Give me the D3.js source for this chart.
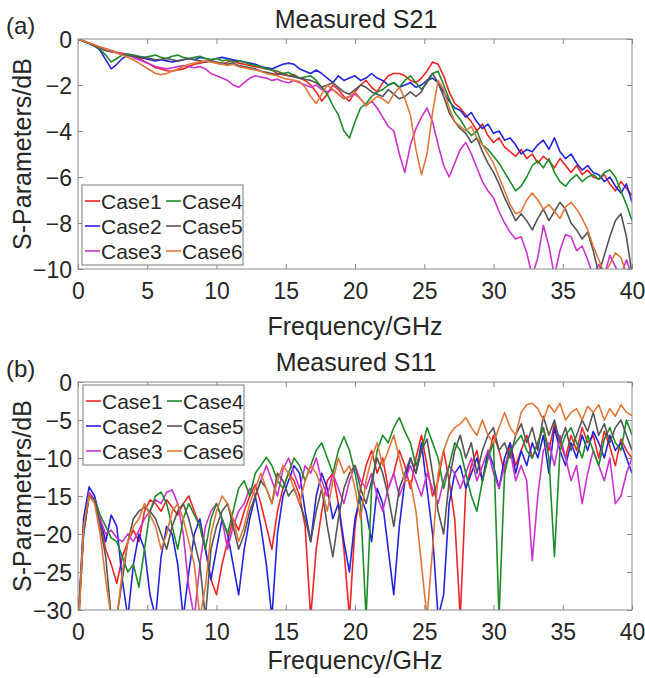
<!DOCTYPE html>
<html><head><meta charset="utf-8">
<script src="https://cdn.jsdelivr.net/npm/d3@7"></script>
<style>
body{margin:0;background:#fff;}
svg text{font-family:"Liberation Sans",Arial,sans-serif;fill:#262626;}
</style>
</head><body>
<svg id="chart" width="645" height="678"></svg>
<script>
// ---------- data ----------
const caseNames = ["Case1","Case2","Case3","Case4","Case5","Case6"];
const caseColors = ["#f02525","#2424dc","#cc33cc","#1f8c2a","#555555","#e0773a"];
const freqStep = 0.4; // GHz between samples, first sample at 0 GHz
const xTicks = [0,5,10,15,20,25,30,35,40];
const s21Ticks = [0,-2,-4,-6,-8,-10];
const s11Ticks = [0,-5,-10,-15,-20,-25,-30];

// Measured S21 (dB), 0..40 GHz
const s21Case1 = [0,-0.08,-0.18,-0.28,-0.35,-0.42,-0.5,-0.58,-0.62,-0.68,
 -0.75,-0.85,-0.98,-1.1,-1.25,-1.3,-1.38,-1.4,-1.35,-1.3,
 -1.2,-1.1,-1.05,-1.0,-0.95,-1.05,-1.1,-1.0,-0.95,-1.05,
 -1.1,-1.15,-1.2,-1.25,-1.3,-1.35,-1.5,-1.55,-1.6,-1.55,
 -1.7,-1.8,-2.0,-2.3,-2.7,-2.4,-2.0,-2.2,-2.5,-2.7,
 -2.3,-2.0,-1.8,-2.1,-2.3,-1.9,-1.6,-1.5,-1.5,-1.6,
 -1.8,-1.9,-1.7,-1.4,-1.0,-1.1,-1.6,-2.3,-2.8,-3.0,
 -3.3,-3.6,-4.0,-3.7,-4.2,-4.5,-4.3,-4.7,-4.9,-5.1,
 -4.8,-5.2,-5.0,-5.4,-5.1,-5.3,-5.6,-5.2,-5.5,-5.8,
 -5.5,-5.9,-5.7,-6.0,-6.1,-5.9,-6.3,-6.6,-6.2,-6.5,
 -6.8];
const s21Case2 = [0,-0.1,-0.2,-0.3,-0.5,-0.9,-1.3,-1.1,-0.85,-0.7,
 -0.75,-0.8,-0.85,-0.9,-0.95,-0.9,-0.95,-1.0,-0.95,-0.9,
 -0.85,-0.9,-0.8,-0.85,-0.9,-0.85,-0.8,-0.85,-0.9,-0.95,
 -1.0,-1.05,-1.1,-1.2,-1.25,-1.3,-1.2,-1.1,-1.05,-1.1,
 -1.3,-1.4,-1.5,-1.35,-1.5,-1.7,-1.9,-1.6,-1.8,-1.7,
 -1.6,-1.8,-1.7,-1.5,-1.7,-1.8,-2.0,-1.9,-2.1,-2.0,
 -1.9,-2.1,-2.0,-1.8,-1.7,-1.9,-2.3,-2.7,-3.0,-3.1,
 -3.4,-3.2,-3.6,-3.9,-3.7,-4.1,-4.0,-4.4,-4.3,-4.6,
 -5.0,-4.8,-4.9,-4.6,-4.4,-4.8,-4.3,-4.9,-5.2,-5.0,
 -5.4,-5.7,-5.5,-5.8,-5.9,-6.2,-6.0,-6.4,-6.7,-6.3,
 -7.1];
const s21Case3 = [0,-0.1,-0.2,-0.3,-0.4,-0.5,-0.55,-0.6,-0.65,-0.7,
 -0.8,-0.9,-1.0,-1.1,-1.2,-1.25,-1.3,-1.25,-1.2,-1.15,
 -1.2,-1.25,-1.2,-1.3,-1.5,-1.6,-1.7,-1.8,-2.0,-2.1,
 -1.9,-1.7,-1.6,-1.65,-1.7,-1.8,-1.75,-1.85,-1.9,-1.8,
 -1.9,-2.0,-2.1,-2.0,-2.2,-2.3,-2.2,-2.4,-2.6,-2.5,
 -2.4,-2.6,-2.9,-2.7,-3.0,-3.4,-3.8,-4.0,-5.0,-5.8,
 -4.6,-3.9,-3.4,-3.0,-3.6,-4.6,-5.5,-6.0,-5.4,-4.8,
 -4.5,-5.0,-5.6,-6.2,-6.6,-6.9,-7.5,-8.0,-8.4,-8.7,
 -8.6,-9.3,-10.3,-9.5,-8.1,-9.0,-10.3,-9.2,-8.5,-8.6,
 -9.2,-9.0,-9.6,-10.3,-9.8,-10.3,-9.4,-9.9,-10.3,-9.6,
 -10.3];
const s21Case4 = [0,-0.1,-0.2,-0.3,-0.45,-0.7,-1.0,-0.85,-0.7,-0.65,
 -0.7,-0.75,-0.8,-0.75,-0.7,-0.8,-0.85,-0.75,-0.7,-0.8,
 -0.85,-0.8,-0.75,-0.85,-0.9,-0.85,-0.95,-0.9,-1.0,-0.95,
 -1.0,-1.1,-1.15,-1.2,-1.3,-1.35,-1.4,-1.5,-1.45,-1.6,
 -1.7,-1.65,-1.6,-1.8,-2.1,-2.4,-2.9,-3.3,-4.0,-4.3,
 -3.6,-3.0,-2.8,-2.5,-2.3,-2.2,-2.0,-1.9,-2.1,-1.8,
 -1.6,-1.9,-2.2,-1.9,-1.5,-1.4,-2.0,-2.6,-3.2,-3.5,
 -3.9,-4.2,-4.0,-4.6,-4.8,-5.1,-5.4,-5.8,-6.2,-6.6,
 -6.4,-6.0,-5.5,-5.3,-5.6,-5.2,-5.8,-6.2,-6.4,-6.1,
 -5.9,-6.2,-6.0,-5.9,-6.1,-5.8,-5.7,-6.0,-6.6,-7.2,
 -7.9];
const s21Case5 = [0,-0.1,-0.2,-0.3,-0.4,-0.5,-0.55,-0.6,-0.7,-0.72,
 -0.75,-0.78,-0.8,-0.85,-0.9,-0.88,-0.85,-0.9,-0.95,-0.9,
 -0.85,-0.9,-0.95,-1.0,-0.95,-1.0,-1.05,-1.1,-1.05,-1.15,
 -1.2,-1.25,-1.3,-1.4,-1.45,-1.5,-1.55,-1.5,-1.6,-1.65,
 -1.7,-1.75,-1.8,-1.9,-2.1,-2.0,-1.9,-2.1,-2.3,-2.4,
 -2.2,-2.0,-2.1,-2.3,-2.4,-2.5,-2.2,-2.4,-2.6,-2.5,
 -2.3,-2.5,-2.3,-1.8,-1.5,-1.9,-2.5,-3.2,-3.6,-3.9,
 -4.1,-4.5,-4.3,-4.9,-5.4,-5.8,-6.3,-6.9,-7.4,-7.9,
 -7.6,-7.9,-8.3,-7.8,-7.4,-7.9,-7.5,-7.1,-7.4,-8.0,
 -8.3,-8.7,-8.4,-9.2,-10.2,-9.4,-8.6,-7.9,-7.6,-8.6,
 -10.2];
const s21Case6 = [0,-0.1,-0.18,-0.25,-0.35,-0.45,-0.52,-0.6,-0.7,-0.8,
 -0.9,-1.05,-1.2,-1.35,-1.5,-1.55,-1.5,-1.4,-1.3,-1.2,
 -1.1,-1.05,-1.0,-0.95,-1.0,-1.05,-1.1,-1.15,-1.1,-1.2,
 -1.25,-1.3,-1.35,-1.4,-1.5,-1.55,-1.6,-1.7,-1.75,-1.8,
 -1.85,-2.1,-2.5,-2.8,-2.4,-2.0,-2.2,-2.4,-2.6,-2.5,
 -2.3,-2.6,-2.9,-2.7,-2.5,-2.6,-2.8,-2.4,-2.1,-2.6,
 -3.3,-4.8,-5.9,-5.0,-3.2,-1.8,-2.2,-3.0,-3.6,-3.8,
 -4.0,-3.8,-4.3,-4.6,-5.0,-5.4,-6.0,-6.6,-7.2,-7.6,
 -7.5,-7.0,-6.7,-7.0,-7.4,-7.2,-7.5,-7.8,-7.3,-7.1,
 -7.4,-7.8,-8.3,-9.0,-9.6,-10.2,-9.8,-9.3,-9.5,-10.2,
 -10.2];

// Measured S11 (dB), 0..40 GHz
const s11Case1 = [-32,-19,-14.8,-15.5,-18.5,-22,-24,-26.5,-23,-21,
 -19.5,-21,-17,-15.5,-16,-17,-15.5,-16.5,-17.5,-16,
 -15,-17,-19,-22,-26,-28,-24,-21,-18,-19.5,
 -17,-15,-13.5,-16,-19,-22,-17,-14,-12,-13,
 -15,-19,-31,-22,-17,-13,-12,-16,-22,-31,
 -19,-14,-11,-9,-12,-10,-14,-12,-9,-11,
 -14,-10,-7,-11,-15,-13,-9,-13,-18,-31,
 -14,-11,-9,-13,-10,-7,-9,-12,-8,-11,
 -9,-7,-10,-8,-6,-9,-5.5,-8,-10,-7,
 -9,-6,-8,-7,-10,-6.5,-8.5,-11,-7.5,-9,
 -10];
const s11Case2 = [-33,-18,-13.8,-15,-18,-21,-17.5,-19,-26,-31,
 -24,-20,-22,-28,-31,-23,-19,-20,-24,-31,
 -25,-20,-18,-22,-26,-22,-18,-20,-24,-28,
 -22,-18,-15,-19,-24,-31,-20,-15,-13,-11,
 -12,-17,-21,-15,-12,-14,-18,-16,-21,-25,
 -18,-15,-17,-21,-14,-16,-22,-28,-19,-13,
 -10,-12,-8,-14,-20,-31,-28,-16,-12,-11,
 -14,-12,-10,-13,-9,-11,-14,-10,-8,-12,
 -9,-11,-8,-10,-7,-12,-6,-9,-11,-8,
 -10,-7,-9,-6.5,-8,-10,-7,-9,-8,-10,
 -12];
const s11Case3 = [-31,-20,-14.5,-15.5,-18,-20,-19.5,-20.5,-21,-20,
 -21,-19.5,-18,-17,-15.5,-16,-14.5,-14.2,-16,-20,
 -27,-31,-24,-19,-17,-16,-18,-22,-19,-17,
 -16,-14,-15,-13,-11,-13,-15,-11.5,-10,-12,
 -14,-11,-12,-10,-13,-15,-12,-14,-16,-13,
 -11,-13,-14,-12,-15,-17,-14,-12,-15,-13,
 -11,-13,-15,-12,-14,-16,-13,-11,-12,-14,
 -12,-10,-13,-11,-9,-12,-14,-11,-9,-13,
 -11,-13,-23.5,-15,-9,-8,-11,-7,-10,-13,
 -11,-16,-12,-9,-11,-13,-10,-16,-15,-12,
 -10];
const s11Case4 = [-32,-20,-15,-15.5,-17.5,-19,-20.5,-21,-23,-25,
 -24,-27,-22,-17,-15,-14.5,-16,-19,-22,-18,
 -16,-17.5,-19,-22,-18,-16,-18,-20,-17,-14,
 -13,-15,-12,-11,-9.9,-11,-13,-14,-12,-10,
 -11,-13,-11,-9,-8,-10,-12,-9,-7.2,-9,
 -12,-16,-31,-14,-9,-7,-8,-6,-4.7,-6.5,
 -8,-11,-9,-6,-8,-10,-14,-11,-8,-9,
 -12,-15,-17,-13,-10,-8,-31,-12,-9,-8,
 -7,-9,-10,-8,-6,-10,-23,-9,-7,-6,
 -8,-10,-7,-9,-11,-7.5,-6,-8,-9,-5,
 -7];
const s11Case5 = [-33,-20,-15,-15.5,-19,-23,-31,-31,-26,-21,
 -18,-17,-16.5,-17,-18,-20,-22,-19,-17,-16,
 -18,-21,-24,-31,-22,-19,-17,-16,-19,-22,
 -20,-17,-15,-13,-14,-16,-12,-13,-15,-14,
 -16,-18,-21,-17,-14,-19,-23,-18,-14,-12,
 -11,-14,-16,-13,-10,-12,-15,-19,-14,-12,
 -10,-12,-9,-7.5,-12,-17,-20,-13,-9,-7,
 -10,-8,-12,-9,-7,-6,-9,-8,-10,-7,
 -5.5,-8,-6,-9,-4.5,-7,-5,-8,-6,-9,
 -7,-5,-6.5,-4,-7,-5.5,-8,-6,-5,-7,
 -9];
const s11Case6 = [-34,-19,-15,-16,-20,-26,-31,-31,-25,-21,
 -19,-18,-16,-17.5,-19,-22,-20,-17,-16,-18,
 -21,-24,-31,-27,-20,-17,-15,-16,-18,-21,
 -19,-16,-14,-12,-14,-16,-13,-11,-12,-14,
 -16,-13,-11,-12,-14,-17,-13,-10,-12,-11,
 -14,-18,-13,-10,-8,-11,-9,-7,-10,-13,
 -13,-17,-24,-31,-22,-12,-9,-7,-6,-5.5,
 -4.7,-6,-7,-5,-7,-8,-6,-4,-6,-7,
 -4,-3,-2.8,-3.5,-5,-3,-4,-2.8,-5,-4,
 -3.5,-5,-3.2,-4,-3,-5,-3.5,-4.5,-3,-4,
 -4.4];

const s21Series = [s21Case1,s21Case2,s21Case3,s21Case4,s21Case5,s21Case6];
const s11Series = [s11Case1,s11Case2,s11Case3,s11Case4,s11Case5,s11Case6];

// ---------- drawing ----------
const svg = d3.select("#chart");
const left = 78, right = 632;
const x = d3.scaleLinear().domain([0,40]).range([left,right]);

function panel(opt){
  const y = d3.scaleLinear().domain([opt.yMin,0]).range([opt.bottom,opt.top]);
  const g = svg.append("g");
  const clipId = "clip" + opt.id;
  svg.append("clipPath").attr("id",clipId).append("rect")
    .attr("x",left).attr("y",opt.top).attr("width",right-left).attr("height",opt.bottom-opt.top);

  const line = d3.line().x((d,i)=>x(i*freqStep)).y(d=>y(d));
  g.append("g").attr("clip-path","url(#"+clipId+")")
    .selectAll("path").data(opt.series).join("path")
    .attr("d",d=>line(d)).attr("fill","none")
    .attr("stroke",(d,i)=>caseColors[i]).attr("stroke-width",1.6)
    .attr("stroke-linejoin","round");

  // axes with inward ticks
  const axB = g.append("g").attr("transform",`translate(0,${opt.bottom})`)
    .call(d3.axisBottom(x).tickValues(xTicks).tickSize(-5).tickFormat(d3.format("d")));
  const axT = g.append("g").attr("transform",`translate(0,${opt.top})`)
    .call(d3.axisTop(x).tickValues(xTicks).tickSize(-5).tickFormat(""));
  const axL = g.append("g").attr("transform",`translate(${left},0)`)
    .call(d3.axisLeft(y).tickValues(opt.yTicks).tickSize(-5).tickFormat(d3.format("d")));
  const axR = g.append("g").attr("transform",`translate(${right},0)`)
    .call(d3.axisRight(y).tickValues(opt.yTicks).tickSize(-5).tickFormat(""));
  [axB,axT,axL,axR].forEach(a=>{
    a.select(".domain").remove();
    a.selectAll(".tick line").attr("stroke","#8a8a8a");
  });
  axB.selectAll(".tick text").attr("y",30).attr("dy",0)
    .style("font-size","23px").attr("fill","#262626");
  axL.selectAll(".tick text").attr("x",-6).attr("dy","0.36em")
    .style("font-size","23px").attr("fill","#262626");
  g.append("rect").attr("x",left).attr("y",opt.top).attr("width",right-left)
    .attr("height",opt.bottom-opt.top).attr("fill","none").attr("stroke","#8a8a8a").attr("stroke-width",1);

  // titles and labels
  g.append("text").attr("x",356).attr("y",opt.top-11).attr("text-anchor","middle")
    .style("font-size","25px").text(opt.title);
  g.append("text").attr("x",6).attr("y",opt.top-5)
    .style("font-size","24px").text(opt.letter);
  g.append("text").attr("x",(left+right)/2).attr("y",opt.xLabelY).attr("text-anchor","middle")
    .style("font-size","25px").text("Frequency/GHz");
  g.append("text").attr("transform",`translate(31,${(opt.top+opt.bottom)/2}) rotate(-90)`)
    .attr("text-anchor","middle").style("font-size","25px").text("S-Parameters/dB");

  // legend
  const lg = g.append("g").attr("transform",`translate(${opt.legX},${opt.legY})`);
  lg.append("rect").attr("x",0).attr("y",0).attr("width",161).attr("height",80)
    .attr("fill","#fff").attr("stroke","#7a7a7a").attr("stroke-width",1);
  caseNames.forEach((name,i)=>{
    const col = Math.floor(i/3), row = i%3;
    const ex = 3 + col*81, ey = 16 + row*25;
    lg.append("line").attr("x1",ex).attr("x2",ex+15).attr("y1",ey).attr("y2",ey)
      .attr("stroke",caseColors[i]).attr("stroke-width",1.6);
    lg.append("text").attr("x",ex+16).attr("y",ey+7.5).style("font-size","21px").text(name);
  });
}

panel({id:"a", top:39, bottom:269, yMin:-10, yTicks:s21Ticks, series:s21Series,
  title:"Measured S21", letter:"(a)", legX:82, legY:185, xLabelY:335});
panel({id:"b", top:382, bottom:610, yMin:-30, yTicks:s11Ticks, series:s11Series,
  title:"Measured S11", letter:"(b)", legX:83, legY:385, xLabelY:669});
</script>
</body></html>
